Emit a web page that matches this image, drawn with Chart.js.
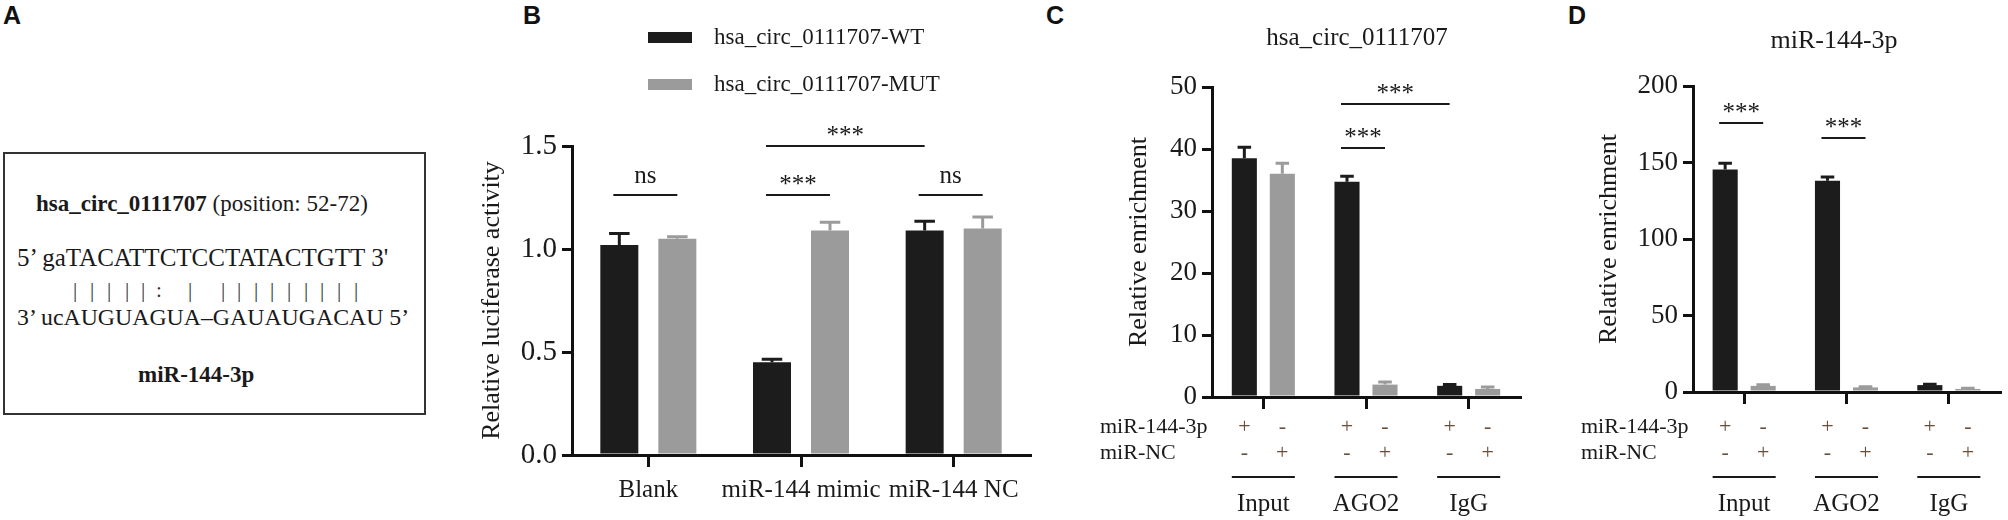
<!DOCTYPE html>
<html>
<head>
<meta charset="utf-8">
<script src="https://cdn.jsdelivr.net/npm/chart.js@4.4.1/dist/chart.umd.min.js"></script>
<style>
  html, body { margin: 0; padding: 0; background: #fff; }
  body { width: 2008px; height: 520px; position: relative; overflow: hidden;
         font-family: 'Liberation Serif', 'Times New Roman', serif; color: #1a1a1a;
         -webkit-font-smoothing: antialiased; }
  .letter { position: absolute; top: 3px; font-family: 'Liberation Sans', Arial, sans-serif;
            font-weight: bold; font-size: 25px; line-height: 25px; color: #111; }
  .box { position: absolute; left: 3px; top: 152px; width: 419px; height: 259px; border: 2px solid #333; }
  .seq { position: absolute; white-space: pre; line-height: 1; }
  .mark { position: absolute; top: 0; font-size: 21px; line-height: 1; color: #333; }
  .wrap { position: absolute; top: 0; height: 520px; }
</style>
</head>
<body>
<div class="letter" style="left:3px">A</div>
<div class="letter" style="left:523px">B</div>
<div class="letter" style="left:1046px">C</div>
<div class="letter" style="left:1568px">D</div>

<div class="box"></div>
<div class="seq" style="left:36px;top:192px;font-size:23px"><b id="circName"></b><span id="circPos"></span></div>
<div class="seq" id="seqTop" style="left:17px;top:245px;font-size:25px"></div>
<div class="seq" id="pairs" style="left:0;top:280px;width:430px;height:24px"></div>
<div class="seq" id="seqBottom" style="left:17px;top:306px;font-size:23.8px"></div>
<div class="seq" id="mirName" style="left:138px;top:363px;font-size:23px;font-weight:bold"></div>

<div class="wrap" style="left:380px;width:660px"><canvas id="lucChart" width="660" height="520"></canvas></div>
<div class="wrap" style="left:1060px;width:480px"><canvas id="circChart" width="480" height="520"></canvas></div>
<div class="wrap" style="left:1545px;width:463px"><canvas id="mirChart" width="463" height="520"></canvas></div>

<script>
// Panel A: binding site
const circName = 'hsa_circ_0111707';
const circPosition = ' (position: 52-72)';
const topPrefix = '5\u2019 ga';
const topSeq = 'TACATTCTCCTATACTGTT';
const topSuffix = " 3'";
const bottomLine = '3\u2019 ucAUGUAGUA\u2013GAUAUGACAU 5\u2019';
const pairMarks = '|||||: | ||||||||| ';
const mirName = 'miR-144-3p';

// Panel B: luciferase assay
const lucCategories = ['Blank', 'miR-144 mimic', 'miR-144 NC'];
const lucSeries = ['hsa_circ_0111707-WT', 'hsa_circ_0111707-MUT'];
const lucWT = [1.02, 0.45, 1.09];
const lucWTErr = [0.055, 0.015, 0.045];
const lucMUT = [1.05, 1.09, 1.10];
const lucMUTErr = [0.01, 0.04, 0.055];
const lucTicks = [0, 0.5, 1.0, 1.5];
const lucTickLabels = ['0.0', '0.5', '1.0', '1.5'];
const lucSig = ['ns', '***', 'ns', '***'];

// Panels C and D: RIP assay
const ripGroups = ['Input', 'AGO2', 'IgG'];
const ripRowLabels = ['miR-144-3p', 'miR-NC'];
const ripRowMiR144 = ['+', '-'];
const ripRowMiRNC = ['-', '+'];

const circTitle = 'hsa_circ_0111707';
const circMiR144 = [38.5, 34.7, 1.8];
const circMiR144Err = [1.8, 0.9, 0.2];
const circMiRNC = [36.0, 2.0, 1.3];
const circMiRNCErr = [1.7, 0.4, 0.3];
const circTicks = [0, 10, 20, 30, 40, 50];
const circSig = ['***', '***'];

const mirTitle = 'miR-144-3p';
const mirMiR144 = [145.5, 138.0, 4.5];
const mirMiR144Err = [4.0, 2.5, 0.6];
const mirMiRNC = [4.0, 3.0, 2.0];
const mirMiRNCErr = [0.8, 0.5, 0.4];
const mirTicks = [0, 50, 100, 150, 200];
const mirSig = ['***', '***'];

const SERIF = "'Liberation Serif', 'Times New Roman', serif";
const INK = '#1a1a1a';
const BLACK_BAR = '#1c1c1c';
const GREY_BAR = '#9b9b9b';
const MARK_INK = '#6b4c36';

// ---- panel A text ----
document.getElementById('circName').textContent = circName;
document.getElementById('circPos').textContent = circPosition;
document.getElementById('seqTop').textContent = topPrefix + topSeq + topSuffix;
document.getElementById('seqBottom').textContent = bottomLine;
document.getElementById('mirName').textContent = mirName;

function placePairMarks() {
  const c = document.createElement('canvas').getContext('2d');
  c.font = "25px 'Liberation Serif'";
  const m = document.createElement('canvas').getContext('2d');
  m.font = "21px 'Liberation Serif'";
  let x = 17 + c.measureText(topPrefix).width;
  const row = document.getElementById('pairs');
  topSeq.split('').forEach((ch, i) => {
    const w = c.measureText(ch).width;
    if (pairMarks[i] !== ' ') {
      const s = document.createElement('span');
      s.className = 'mark';
      s.textContent = pairMarks[i];
      s.style.left = Math.round(x + w / 2 - m.measureText(pairMarks[i]).width / 2) + 'px';
      row.appendChild(s);
    }
    x += w;
  });
}
placePairMarks();

// ---- plugins ----
const errorBars = {
  id: 'errorBars',
  afterDatasetsDraw(chart) {
    const { ctx, scales: { y } } = chart;
    ctx.save();
    ctx.lineWidth = 3;
    chart.data.datasets.forEach((ds, d) => {
      chart.getDatasetMeta(d).data.forEach((bar, i) => {
        const y0 = y.getPixelForValue(ds.data[i]);
        const y1 = y.getPixelForValue(ds.data[i] + ds.errors[i]);
        const half = bar.width * 0.27;
        ctx.strokeStyle = ds.backgroundColor;
        ctx.beginPath();
        ctx.moveTo(bar.x, y0);
        ctx.lineTo(bar.x, y1);
        ctx.moveTo(bar.x - half, y1);
        ctx.lineTo(bar.x + half, y1);
        ctx.stroke();
      });
    });
    ctx.restore();
  }
};

// brackets: pairs of [dataset, index] and the value level of the line
function makeBrackets(items, labels) {
  return {
    id: 'brackets',
    afterDatasetsDraw(chart) {
      const { ctx, scales: { y } } = chart;
      ctx.save();
      ctx.strokeStyle = INK;
      ctx.fillStyle = INK;
      ctx.lineWidth = 2;
      ctx.font = '25px ' + SERIF;
      ctx.textAlign = 'center';
      ctx.textBaseline = 'alphabetic';
      items.forEach((b, k) => {
        const x1 = chart.getDatasetMeta(b.a[0]).data[b.a[1]].x - 6;
        const x2 = chart.getDatasetMeta(b.b[0]).data[b.b[1]].x;
        const ly = Math.round(y.getPixelForValue(b.level));
        ctx.beginPath();
        ctx.moveTo(x1, ly);
        ctx.lineTo(x2, ly);
        ctx.stroke();
        const stars = labels[k].indexOf('*') >= 0;
        const cy = ly - (stars ? 15 : 18);
        ctx.fillText(labels[k], (x1 + x2) / 2, cy + (stars ? 11.5 : 6));
      });
      ctx.restore();
    }
  };
}

const lucLegend = {
  id: 'lucLegend',
  afterDraw(chart) {
    const { ctx, chartArea } = chart;
    ctx.save();
    ctx.font = '23px ' + SERIF;
    ctx.textBaseline = 'middle';
    chart.data.datasets.forEach((ds, d) => {
      const x = chartArea.left + 76;
      const cy = 38 + d * 47;
      ctx.fillStyle = ds.backgroundColor;
      ctx.fillRect(x, cy - 6, 44, 11);
      ctx.fillStyle = INK;
      ctx.fillText(ds.label, x + 66, cy);
    });
    ctx.restore();
  }
};

function makeTitle(text, dx, baseline, size) {
  return {
    id: 'panelTitle',
    afterDraw(chart) {
      const { ctx, chartArea } = chart;
      ctx.save();
      ctx.font = size + 'px ' + SERIF;
      ctx.fillStyle = INK;
      ctx.textAlign = 'center';
      ctx.fillText(text, chartArea.left + dx, baseline);
      ctx.restore();
    }
  };
}

// +/- rows, group underline and group names under the RIP charts
const ripLabels = {
  id: 'ripLabels',
  afterDraw(chart) {
    const { ctx, chartArea } = chart;
    const rows = [ripRowMiR144, ripRowMiRNC];
    const rowBase = [433, 459];
    ctx.save();
    ctx.font = '22px ' + SERIF;
    ctx.textBaseline = 'alphabetic';
    ctx.fillStyle = INK;
    ctx.textAlign = 'left';
    ripRowLabels.forEach((t, r) => ctx.fillText(t, chartArea.left - 112, rowBase[r]));
    ctx.textAlign = 'center';
    ctx.fillStyle = MARK_INK;
    chart.data.datasets.forEach((ds, d) => {
      chart.getDatasetMeta(d).data.forEach(bar => {
        rows.forEach((row, r) => ctx.fillText(row[d], bar.x, rowBase[r]));
      });
    });
    const first = chart.getDatasetMeta(0).data;
    const second = chart.getDatasetMeta(1).data;
    ctx.strokeStyle = INK;
    ctx.lineWidth = 2;
    ctx.fillStyle = INK;
    ctx.font = '25px ' + SERIF;
    chart.data.labels.forEach((g, i) => {
      const x1 = first[i].x - first[i].width / 2;
      const x2 = second[i].x + second[i].width / 2;
      ctx.beginPath();
      ctx.moveTo(x1, 477);
      ctx.lineTo(x2, 477);
      ctx.stroke();
      ctx.fillText(g, chart.scales.x.getPixelForValue(i), 511);
    });
    ctx.restore();
  }
};

function valueAxis(max, ticks, labels, size, title, width) {
  return {
    min: 0,
    max: max,
    afterBuildTicks(s) { s.ticks = ticks.map(v => ({ value: v })); },
    ticks: {
      callback: (v, i) => labels[i],
      font: { family: SERIF, size: size },
      color: INK,
      padding: 5
    },
    grid: { drawOnChartArea: false, drawTicks: true, tickLength: 10, lineWidth: 3, color: '#111' },
    border: { display: true, width: 3, color: '#111' },
    title: { display: true, text: title, font: { family: SERIF, size: 26 }, color: INK, padding: 0 },
    afterFit(s) { s.width = width; }
  };
}

function groupAxis(showLabels, height) {
  return {
    type: 'category',
    offset: true,
    grid: { offset: false, drawOnChartArea: false, drawTicks: true, tickLength: 12, lineWidth: 3, color: '#111' },
    border: { display: true, width: 3, color: '#111' },
    ticks: {
      display: showLabels,
      font: { family: SERIF, size: 25 },
      color: INK,
      padding: 8,
      maxRotation: 0,
      autoSkip: false
    },
    afterFit(s) { s.height = height; }
  };
}

const common = {
  responsive: false,
  animation: false,
  events: [],
  plugins: { legend: { display: false }, tooltip: { enabled: false }, title: { display: false } }
};

// Panel B
new Chart(document.getElementById('lucChart'), {
  type: 'bar',
  data: {
    labels: lucCategories,
    datasets: [
      { label: lucSeries[0], data: lucWT, errors: lucWTErr, backgroundColor: BLACK_BAR,
        categoryPercentage: 0.76, barPercentage: 0.655 },
      { label: lucSeries[1], data: lucMUT, errors: lucMUTErr, backgroundColor: GREY_BAR,
        categoryPercentage: 0.76, barPercentage: 0.655 }
    ]
  },
  options: Object.assign({}, common, {
    layout: { padding: { left: 97, right: 10, top: 146, bottom: 15 } },
    scales: {
      x: groupAxis(true, 50),
      y: valueAxis(1.5, lucTicks, lucTickLabels, 29, 'Relative luciferase activity', 95)
    }
  }),
  plugins: [errorBars, lucLegend, makeBrackets([
    { a: [0, 0], b: [1, 0], level: 1.26 },
    { a: [0, 1], b: [1, 1], level: 1.26 },
    { a: [0, 2], b: [1, 2], level: 1.26 },
    { a: [0, 1], b: [0, 2], level: 1.5 }
  ], lucSig)]
});

// Panel C
new Chart(document.getElementById('circChart'), {
  type: 'bar',
  data: {
    labels: ripGroups,
    datasets: [
      { label: ripRowLabels[0], data: circMiR144, errors: circMiR144Err, backgroundColor: BLACK_BAR,
        categoryPercentage: 0.74, barPercentage: 0.66 },
      { label: ripRowLabels[1], data: circMiRNC, errors: circMiRNCErr, backgroundColor: GREY_BAR,
        categoryPercentage: 0.74, barPercentage: 0.66 }
    ]
  },
  options: Object.assign({}, common, {
    layout: { padding: { left: 64, right: 20, top: 87, bottom: 23 } },
    scales: {
      x: groupAxis(false, 100),
      y: valueAxis(50, circTicks, circTicks.map(String), 27, 'Relative enrichment', 88)
    }
  }),
  plugins: [errorBars, ripLabels, makeTitle(circTitle, 145, 45, 25), makeBrackets([
    { a: [0, 1], b: [1, 1], level: 40.2 },
    { a: [0, 1], b: [0, 2], level: 47.3 }
  ], circSig)]
});

// Panel D
new Chart(document.getElementById('mirChart'), {
  type: 'bar',
  data: {
    labels: ripGroups,
    datasets: [
      { label: ripRowLabels[0], data: mirMiR144, errors: mirMiR144Err, backgroundColor: BLACK_BAR,
        categoryPercentage: 0.743, barPercentage: 0.66 },
      { label: ripRowLabels[1], data: mirMiRNC, errors: mirMiRNCErr, backgroundColor: GREY_BAR,
        categoryPercentage: 0.743, barPercentage: 0.66 }
    ]
  },
  options: Object.assign({}, common, {
    layout: { padding: { left: 49, right: 8, top: 86, bottom: 28 } },
    scales: {
      x: groupAxis(false, 100),
      y: valueAxis(200, mirTicks, mirTicks.map(String), 27, 'Relative enrichment', 99)
    }
  }),
  plugins: [errorBars, ripLabels, makeTitle(mirTitle, 141, 48, 26), makeBrackets([
    { a: [0, 0], b: [1, 0], level: 176 },
    { a: [0, 1], b: [1, 1], level: 166 }
  ], mirSig)]
});
</script>
</body>
</html>
